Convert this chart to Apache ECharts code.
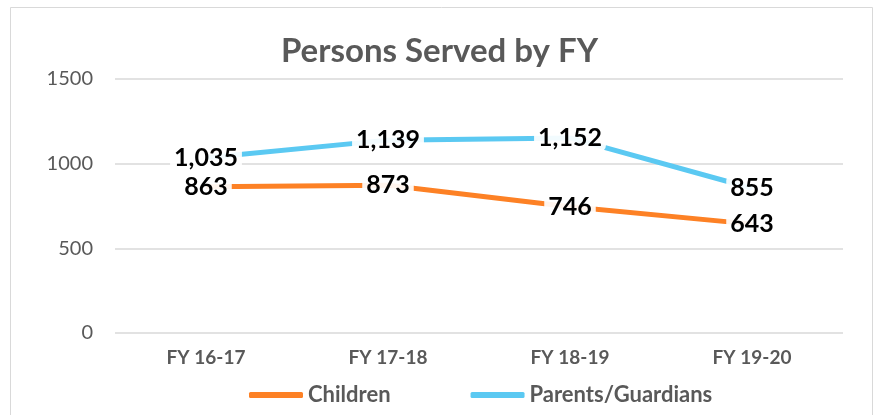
<!DOCTYPE html>
<html>
<head>
<meta charset="utf-8">
<script src="https://cdn.jsdelivr.net/npm/echarts@6/dist/echarts.min.js"></script>
<style>
html, body { margin: 0; padding: 0; background: #fff; }
#chart { width: 879px; height: 415px; }
</style>
</head>
<body>
<div id="chart"></div>
<script>
var years = ['FY 16-17', 'FY 17-18', 'FY 18-19', 'FY 19-20'];
var children = [863, 873, 746, 643];
var parents = [1035, 1139, 1152, 855];
var yTicks = [0, 500, 1000, 1500];

var chart = echarts.init(document.getElementById('chart'));

function fmt(p) {
	return p.value.toLocaleString('en-US');
}

var labelStyle = {
	show: true,
	position: 'inside',
	formatter: fmt,
	color: '#000',
	fontFamily: 'Lato',
	fontWeight: 'bold',
	fontSize: 25,
	backgroundColor: 'rgba(255,255,255,0.92)',
	padding: [1, 4],
	borderRadius: 6
};

var option = {
	backgroundColor: '#fff',
	textStyle: { fontFamily: 'Lato' },
	title: {
		text: 'Persons Served by FY',
		left: 'center',
		top: 30,
		textStyle: { color: '#595959', fontSize: 33, fontWeight: 'bold', fontFamily: 'Lato' }
	},
	graphic: [{
		type: 'rect',
		shape: { x: 10.5, y: 7.5, width: 862, height: 420 },
		style: { fill: 'none', stroke: '#d9d9d9', lineWidth: 1 }
	}],
	legend: {
		bottom: 4,
		left: 244,
		itemWidth: 54,
		itemHeight: 6,
		itemGap: 80,
		icon: 'roundRect',
		textStyle: { color: '#595959', fontSize: 22, fontWeight: 'bold', fontFamily: 'Lato' },
		data: ['Children', 'Parents/Guardians']
	},
	grid: { left: 115, right: 36, top: 79, bottom: 82 },
	xAxis: {
		type: 'category',
		data: years,
		axisLine: { show: false },
		axisTick: { show: false },
		axisLabel: { color: '#595959', fontSize: 19, fontWeight: 'bold', margin: 15 }
	},
	yAxis: {
		type: 'value',
		min: yTicks[0],
		max: yTicks[yTicks.length - 1],
		interval: 500,
		axisLine: { show: false },
		axisTick: { show: false },
		splitLine: { lineStyle: { color: '#d9d9d9', width: 1.5 } },
		axisLabel: { color: '#595959', fontSize: 20, margin: 22, formatter: function (v) { return String(v); } }
	},
	series: [
		{
			name: 'Children',
			type: 'line',
			data: children,
			color: '#fd8125',
			symbol: 'circle',
			symbolSize: 1,
			lineStyle: { width: 5, color: '#fd8125' },
			label: labelStyle,
			z: 3
		},
		{
			name: 'Parents/Guardians',
			type: 'line',
			data: parents,
			color: '#5bc9f2',
			symbol: 'circle',
			symbolSize: 1,
			lineStyle: { width: 5, color: '#5bc9f2' },
			label: labelStyle,
			z: 3
		}
	]
};

chart.setOption(option);
</script>
</body>
</html>
